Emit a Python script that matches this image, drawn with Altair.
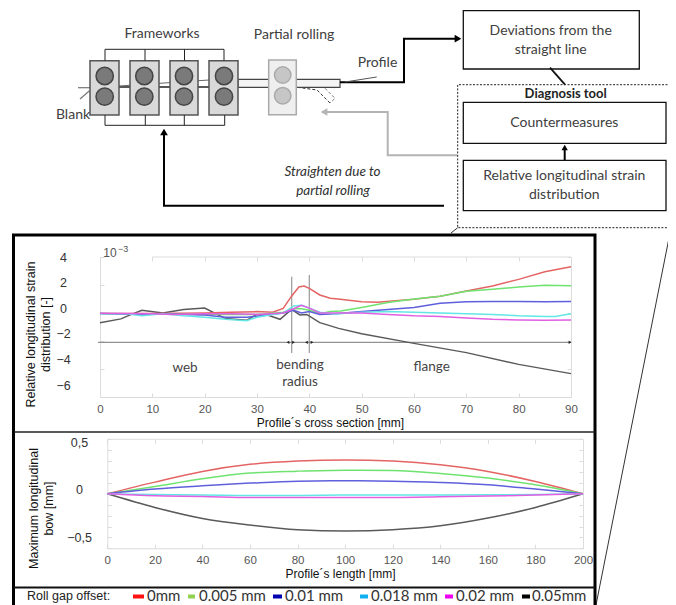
import altair as alt
import pandas as pd

# ---------- chart data ----------
SERIES = ["0.05mm", "0mm", "0.005 mm", "0.01 mm", "0.018 mm", "0.02 mm"]
LINE_COLORS = ["#5a5a5a", "#e46464", "#6fe36f", "#5f5fdc", "#62e6e6", "#e25fe2"]

strain_black_x = [0, 4, 6, 8, 12, 16, 20, 24, 28, 30, 32, 34.4, 36.6, 38.2, 39.5, 42, 45.6, 50, 60, 70, 80, 90]
strain_black_y = [-0.7, -0.42, -0.1, 0.2, 0, 0.25, 0.35, -0.4, -0.52, -0.1, -0.15, -0.45, 0.26, -0.14, -0.1, -0.69, -1.1, -1.48, -2.17, -2.83, -3.67, -4.33]
strain_red_x = [0, 10, 20, 25, 30, 33, 35, 36.6, 38, 39, 40, 42, 44, 45.5, 50, 53, 60, 65, 70, 75, 80, 85, 90]
strain_red_y = [-0.03, -0.03, 0, 0.05, 0.1, 0.05, 0.33, 1.2, 1.86, 1.93, 1.76, 1.29, 1.05, 1.0, 0.81, 0.76, 0.98, 1.2, 1.57, 1.93, 2.4, 2.95, 3.31]
strain_green_x = [0, 20, 30, 35, 37, 38.5, 40, 42, 44, 46, 50, 55, 60, 65, 70, 75, 80, 85, 90]
strain_green_y = [-0.03, -0.1, -0.1, 0.05, 0.3, 0.3, 0.2, -0.05, 0.1, 0.15, 0.4, 0.75, 1.0, 1.2, 1.55, 1.7, 1.85, 1.98, 1.95]
strain_blue_x = [0, 8, 12, 16, 20, 24, 28, 32, 35, 37, 38.5, 40, 42, 45, 50, 55, 60, 65, 70, 75, 80, 85, 90]
strain_blue_y = [-0.03, -0.1, -0.05, -0.1, -0.15, -0.3, -0.3, -0.15, 0, 0.2, 0, 0.1, -0.1, -0.05, 0.1, 0.25, 0.4, 0.7, 0.8, 0.83, 0.83, 0.8, 0.83]
strain_cyan_x = [0, 5, 8, 12, 16, 20, 24, 28, 30, 33, 35, 37, 38.5, 40, 42, 45, 50, 55, 60, 65, 70, 75, 80, 85, 87, 90]
strain_cyan_y = [-0.05, -0.05, -0.2, -0.05, -0.2, -0.3, -0.45, -0.55, -0.3, -0.1, 0, 0.5, 0.55, 0.35, 0.05, -0.08, 0.05, 0.1, 0.05, 0, -0.05, -0.1, -0.2, -0.25, -0.25, -0.05]
strain_magenta_x = [0, 5, 10, 14, 20, 25, 30, 35, 37, 38.5, 40, 42, 45, 50, 55, 60, 65, 70, 75, 80, 85, 90]
strain_magenta_y = [-0.02, -0.03, -0.05, -0.1, -0.05, -0.05, -0.1, 0, 0.3, 0.55, 0.35, 0, 0, 0, -0.1, -0.2, -0.25, -0.35, -0.45, -0.5, -0.52, -0.5]

bow_x = [0, 20, 40, 60, 80, 100, 120, 140, 160, 180, 200]
bow_black = [0, -0.125, -0.226, -0.287, -0.33, -0.342, -0.33, -0.294, -0.223, -0.125, 0]
bow_red = [0, 0.107, 0.205, 0.27, 0.30, 0.31, 0.30, 0.266, 0.205, 0.113, 0]
bow_green = [0, 0.067, 0.138, 0.19, 0.208, 0.217, 0.214, 0.187, 0.144, 0.083, 0]
bow_blue = [0, 0.043, 0.073, 0.098, 0.116, 0.119, 0.116, 0.104, 0.083, 0.043, 0]
bow_cyan = [0, -0.006, -0.012, -0.015, -0.015, -0.012, -0.012, -0.012, -0.009, -0.006, 0]
bow_magenta = [0, -0.018, -0.024, -0.034, -0.034, -0.034, -0.034, -0.028, -0.02, -0.012, 0]

strain_ticks_x = [0, 10, 20, 30, 40, 50, 60, 70, 80, 90]
strain_ticks_y = [-6, -4, -2, 0, 2, 4]
bow_ticks_x = [0, 20, 40, 60, 80, 100, 120, 140, 160, 180, 200]
bow_ticks_y = [-0.5, -0.4, -0.3, -0.2, -0.1, 0, 0.1, 0.2, 0.3, 0.4, 0.5]
bow_labels_y = [-0.5, 0, 0.5]

LEGEND_TITLE = "Roll gap offset:"
LEGEND_LABELS = ["0mm", "0.005 mm", "0.01 mm", "0.018 mm", "0.02 mm", "0.05mm"]
LEGEND_COLORS = ["#ff1010", "#92d050", "#0000b0", "#10b0f0", "#f000f0", "#000000"]

# ---------- layout, in picture pixels ----------
W, H, M = 660, 597, 8
GRID = "#dcdcdc"
TXT = "#404040"
DIAGRAM_FONT = "Lato"
AXIS_FONT = "Liberation Sans"

SX = alt.Scale(domain=[M, W + M], range=[0, W])
SY = alt.Scale(domain=[H + M, M], range=[H, 0])
X0, X1, Y0, Y1 = 100, 571, 397, 257        # strain plot
BX0, BX1, BY0, BY1 = 107.3, 583, 548.3, 439.3  # bow plot


def poly(points, color="#000000", width=1.0, dash=None, opacity=1):
    df = pd.DataFrame(points, columns=["x", "y"])
    df["o"] = range(len(df))
    kw = dict(color=color, strokeWidth=width, opacity=opacity, clip=False)
    if dash:
        kw["strokeDash"] = dash
    return alt.Chart(df).mark_line(**kw).encode(
        x=alt.X("x:Q", scale=SX, axis=None),
        y=alt.Y("y:Q", scale=SY, axis=None),
        order="o:Q",
    )


def rects(boxes, fill, stroke, width=1.5):
    df = pd.DataFrame(boxes, columns=["x", "x2", "y", "y2"])
    return alt.Chart(df).mark_rect(fill=fill, stroke=stroke, strokeWidth=width).encode(
        x=alt.X("x:Q", scale=SX, axis=None), x2="x2:Q",
        y=alt.Y("y:Q", scale=SY, axis=None), y2="y2:Q",
    )


def dots(points, fill, stroke, size):
    df = pd.DataFrame(points, columns=["x", "y"])
    return alt.Chart(df).mark_point(
        shape="circle", filled=True, fill=fill, stroke=stroke, strokeWidth=1.5, size=size, opacity=1
    ).encode(
        x=alt.X("x:Q", scale=SX, axis=None),
        y=alt.Y("y:Q", scale=SY, axis=None),
    )


def tip(x, y, shape, color="#000000", size=60):
    df = pd.DataFrame({"x": [x], "y": [y]})
    return alt.Chart(df).mark_point(
        shape=shape, filled=True, fill=color, size=size, opacity=1
    ).encode(
        x=alt.X("x:Q", scale=SX, axis=None),
        y=alt.Y("y:Q", scale=SY, axis=None),
    )


def texts(items, size=13, color=TXT, font=DIAGRAM_FONT, align="center", **kw):
    df = pd.DataFrame(items, columns=["t", "x", "y"])
    return alt.Chart(df).mark_text(
        font=font, fontSize=size, color=color, align=align, baseline="middle", **kw
    ).encode(
        x=alt.X("x:Q", scale=SX, axis=None),
        y=alt.Y("y:Q", scale=SY, axis=None),
        text="t:N",
    )


layers = []

# ---------- process diagram ----------
stand_boxes = [(90, 119, 60.7, 115), (130, 159, 60.7, 115), (170, 198, 60.7, 115), (209, 238, 60.7, 115)]
stand_rolls = [(104.7, 76), (104.7, 96.7), (144.3, 76), (144.3, 96.7), (184, 76), (184, 96.7), (224, 76), (224, 96.7)]

layers += [
    poly([(78, 87.7), (90, 87.7)], "#777777", 1.2),
    poly([(80, 99), (89.5, 90.7)], "#777777", 1.2),
    poly([(119, 87), (209, 87)], "#222222", 1.6),
    poly([(119, 86), (209, 80)], "#666666", 1),
    poly([(297.5, 87.3), (317, 90), (330, 103)], "#333333", 1, [3, 2]),
    poly([(325, 88.3), (335, 98.3), (330, 103)], "#777777", 1, [3, 2]),
    rects([(238, 269, 79.3, 87.3), (296, 340, 79.3, 87.3)], "#f4f4f4", "#444444", 1.2),
    rects(stand_boxes, "#d9d9d9", "#555555", 1.5),
    dots(stand_rolls, "#7a7a7a", "#444444", 300),
    rects([(268.7, 296.3, 60, 114.7)], "#efefef", "#aaaaaa", 1.5),
    dots([(282.7, 75), (282.7, 95.7)], "#c6c6c6", "#aaaaaa", 270),
    poly([(105, 60.7), (105, 49.3), (224, 49.3), (224, 60.7)], "#222222", 1),
    poly([(145, 49.3), (145, 60.7)], "#222222", 1),
    poly([(184.5, 49.3), (184.5, 60.7)], "#222222", 1),
    poly([(105, 115), (105, 125.3), (224.7, 125.3), (224.7, 115)], "#222222", 1),
    poly([(145.3, 115), (145.3, 125.3)], "#222222", 1),
    poly([(184.3, 115), (184.3, 125.3)], "#222222", 1),
    # feedback arrows
    poly([(444, 205.7), (164, 205.7), (164, 134)], "#000000", 2),
    tip(164, 132, "triangle-up"),
    poly([(457.5, 155.3), (387.7, 155.3), (387.7, 112), (326, 112)], "#b4b4b4", 2),
    tip(324, 112, "triangle-left", "#b4b4b4"),
    # profile arrow
    poly([(340, 82.3), (404, 82.3), (404, 38.7), (456, 38.7)], "#000000", 2),
    tip(458, 38.7, "triangle-right"),
    poly([(345, 82), (376.7, 77)], "#555555", 1),
    # boxes
    rects([(463.3, 639.3, 10.7, 69), (463.3, 666, 102.3, 143.3), (463.3, 666, 160.3, 210.7)], "#ffffff", "#111111", 1.3),
    poly([(550, 67.7), (565, 84.7)], "#111111", 1.8),
    poly([(564.7, 160), (564.7, 149)], "#000000", 2),
    tip(564.7, 147.5, "triangle-up", size=40),
    poly([(671, 84.7), (457.7, 84.7), (457.7, 227.7), (671, 227.7)], "#222222", 1, [2, 1.5]),
    poly([(457.7, 227.7), (451, 233)], "#333333", 1),
    poly([(671, 228), (596, 605)], "#333333", 1),
    texts([("Frameworks", 162, 34), ("Partial rolling", 294, 35), ("Profile", 377.5, 62.7), ("Blank", 73, 115),
           ("Deviations from the", 550.7, 30.7), ("straight line", 550.7, 50),
           ("Countermeasures", 564.3, 123.3),
           ("Relative longitudinal strain", 564.3, 175.7), ("distribution", 564.3, 195.3)], size=14),
    texts([("Straighten due to", 332.5, 171.7), ("partial rolling", 333, 191)], size=13.5, fontStyle="italic", color="#303030"),
    texts([("Diagnosis  tool", 565.7, 93.7)], size=13, fontWeight="bold", color="#222222"),
]

# ---------- frames ----------
layers += [
    poly([(13.5, 605), (13.5, 235), (595, 235), (595, 605)], "#000000", 3),
    poly([(14, 432), (595, 432)], "#222222", 1.5),
    poly([(14, 587.5), (595, 587.5)], "#111111", 2),
]


def long_frame(rows):
    out = []
    for name, xs, ys in rows:
        out += [{"x": a, "y": b, "s": name} for a, b in zip(xs, ys)]
    return pd.DataFrame(out)


strain_df = long_frame([
    ("0.05mm", strain_black_x, strain_black_y),
    ("0mm", strain_red_x, strain_red_y),
    ("0.005 mm", strain_green_x, strain_green_y),
    ("0.01 mm", strain_blue_x, strain_blue_y),
    ("0.018 mm", strain_cyan_x, strain_cyan_y),
    ("0.02 mm", strain_magenta_x, strain_magenta_y),
])
bow_df = long_frame([
    ("0.05mm", bow_x, bow_black),
    ("0mm", bow_x, bow_red),
    ("0.005 mm", bow_x, bow_green),
    ("0.01 mm", bow_x, bow_blue),
    ("0.018 mm", bow_x, bow_cyan),
    ("0.02 mm", bow_x, bow_magenta),
])

AXIS_BASE = dict(grid=False, labelFont=AXIS_FONT, titleFont=AXIS_FONT, labelColor="#555555",
                 titleColor="#111111", domainColor=GRID, tickColor=GRID, labelOverlap=False,
                 labelBound=False, labelFlush=False)


def xscale(dom, a, b):
    return alt.Scale(domain=dom, range=[a - M, b - M], nice=False, zero=False)


def yscale(dom, a, b):
    return alt.Scale(domain=dom, range=[a - M, b - M], nice=False, zero=False)


def ghost_x(vals, scale, **axis):
    df = pd.DataFrame({"v": vals})
    return alt.Chart(df).mark_point(opacity=0).encode(
        x=alt.X("v:Q", scale=scale, axis=alt.Axis(**{**AXIS_BASE, **axis})),
        y=alt.value(0),
    )


def ghost_y(vals, scale, **axis):
    df = pd.DataFrame({"v": vals})
    return alt.Chart(df).mark_point(opacity=0).encode(
        y=alt.Y("v:Q", scale=scale, axis=alt.Axis(**{**AXIS_BASE, **axis})),
        x=alt.value(0),
    )


def plot_axes(tx, ty, xdom, ydom, x0, x1, y0, y1, xtitle, xt_x, xt_y, lab_y, lab_y_dom, lab_y_rng, lab_x,
              ytitle, yt_x, yt_y, expr=None):
    sx = xscale(xdom, x0, x1)
    sy = yscale(ydom, y0, y1)
    sl = yscale(lab_y_dom, lab_y_rng[0], lab_y_rng[1])
    off_b = y0 - M - H
    out = [
        # bottom line, labels and title
        ghost_x(tx, sx, orient="bottom", offset=off_b, values=tx, ticks=False, labelPadding=6, labelFontSize=11.5,
                format="d", title=xtitle, titleFontSize=12, titleFontWeight="normal", titleX=xt_x - M,
                titleY=xt_y - y0, titleBaseline="middle", domain=True),
        # inward ticks
        ghost_x(tx, sx, orient="top", offset=-(y0 - M), values=tx, ticks=True, tickSize=4, labels=False, title=None, domain=False),
        ghost_x(tx, sx, orient="bottom", offset=y1 - M - H, values=tx, ticks=True, tickSize=4, labels=False, title=None, domain=False),
        ghost_y(ty, sy, orient="right", offset=x0 - M - W, values=ty, ticks=True, tickSize=4, labels=False, title=None, domain=True),
        ghost_y(ty, sy, orient="left", offset=-(x1 - M), values=ty, ticks=True, tickSize=4, labels=False, title=None, domain=True),
        # displaced value labels, as in the original figure
        ghost_y(lab_y, sl, orient="left", offset=-(lab_x - M), values=lab_y, ticks=False, domain=False, labelPadding=0,
                labelAlign="center", labelBaseline="middle", labelFontSize=12.5, labelColor="#333333",
                title=ytitle, titleFontSize=12.5, titleFontWeight="normal", titleX=yt_x - lab_x, titleY=yt_y - M,
                titleAngle=270, titleBaseline="middle", titleAlign="center", titleLineHeight=15.5,
                **({"labelExpr": expr} if expr else {"format": "d"})),
    ]
    return out


layers += plot_axes(strain_ticks_x, strain_ticks_y, [0, 90], [-6, 4], X0, X1, Y0, Y1,
                    "Profile´s cross section [mm]", 330, 422,
                    strain_ticks_y, [-6, 4], (385, 257), 63,
                    ["Relative longitudinal strain", "distribution [-]"], 30, 334)
layers += [poly([(152, 257), (571, 257)], GRID, 1)]
layers += plot_axes(bow_ticks_x, bow_ticks_y, [0, 200], [-0.5, 0.5], BX0, BX1, BY0, BY1,
                    "Profile´s length  [mm]", 340, 573,
                    bow_labels_y, [-0.5, 0.5], (537, 442), 79,
                    ["Maximum  longitudinal", "bow [mm]"], 33, 508,
                    expr="replace(format(datum.value, '.1f'), '.', ',') === '0,0' ? '0' : replace(format(datum.value, '.1f'), '.', ',')")
layers += [poly([(107.3, 439.3), (583, 439.3)], GRID, 1)]

# ---------- annotations in the strain plot ----------
layers += [
    poly([(291.7, 276.7), (291.7, 353)], "#999999", 1.2),
    poly([(309.3, 275), (309.3, 353)], "#999999", 1.2),
    poly([(98, 342.3), (571, 342.3)], "#777777", 1),
    tip(288, 342.3, "triangle-left", "#222222", 10), tip(293.5, 342.3, "triangle-right", "#222222", 10),
    tip(306.5, 342.3, "triangle-left", "#222222", 10), tip(312, 342.3, "triangle-right", "#222222", 10),
    tip(570, 342.3, "triangle-right", "#222222", 10),
    texts([("web", 185, 367.7), ("bending", 300, 365), ("radius", 300, 382), ("flange", 431.7, 367)], size=13.5, color="#444444"),
]

# ---------- data lines ----------
layers += [
    alt.Chart(strain_df).mark_line(strokeWidth=1.5, clip=False).encode(
        x=alt.X("x:Q", scale=xscale([0, 90], X0, X1), axis=None),
        y=alt.Y("y:Q", scale=yscale([-6, 4], Y0, Y1), axis=None),
        color=alt.Color("s:N", scale=alt.Scale(domain=SERIES, range=LINE_COLORS), legend=None),
    ),
    alt.Chart(bow_df).mark_line(strokeWidth=1.5, clip=False, interpolate="monotone").encode(
        x=alt.X("x:Q", scale=xscale([0, 200], BX0, BX1), axis=None),
        y=alt.Y("y:Q", scale=yscale([-0.5, 0.5], BY0, BY1), axis=None),
        color=alt.Color("s:N", scale=alt.Scale(domain=SERIES, range=LINE_COLORS), legend=None),
    ),
]

# ---------- 10^-3 marker ----------
layers += [
    texts([("10", 110, 253)], size=12, color="#555555", font=AXIS_FONT),
    texts([("−3", 123, 249)], size=9, color="#555555", font=AXIS_FONT),
]

# ---------- legend row ----------
swatch_x0 = [133, 188, 273, 360, 445, 522]
swatch_x1 = [144, 195, 282, 368, 453, 530]
label_x = [147, 199, 285, 371, 456, 532]
legend_df = pd.DataFrame({"x": swatch_x0, "x2": swatch_x1, "y": [594.5] * 6, "y2": [598.5] * 6, "c": LEGEND_COLORS})
layers += [
    alt.Chart(legend_df).mark_rect().encode(
        x=alt.X("x:Q", scale=SX, axis=None), x2="x2:Q",
        y=alt.Y("y:Q", scale=SY, axis=None), y2="y2:Q",
        color=alt.Color("c:N", scale=None),
    ),
    texts(list(zip(LEGEND_LABELS, label_x, [596] * 6)), size=15, align="left", color="#333333"),
    texts([(LEGEND_TITLE, 27, 596)], size=12.5, align="left", color="#222222", font=AXIS_FONT),
]

chart = alt.layer(*layers).resolve_scale(x="independent", y="independent", color="independent").resolve_axis(
    x="independent", y="independent"
).properties(
    width=W, height=H, padding=0, autosize=alt.AutoSizeParams(type="none"),
).configure_view(stroke=None)

chart.save("out.html", embed_options={"renderer": "svg", "actions": False})
